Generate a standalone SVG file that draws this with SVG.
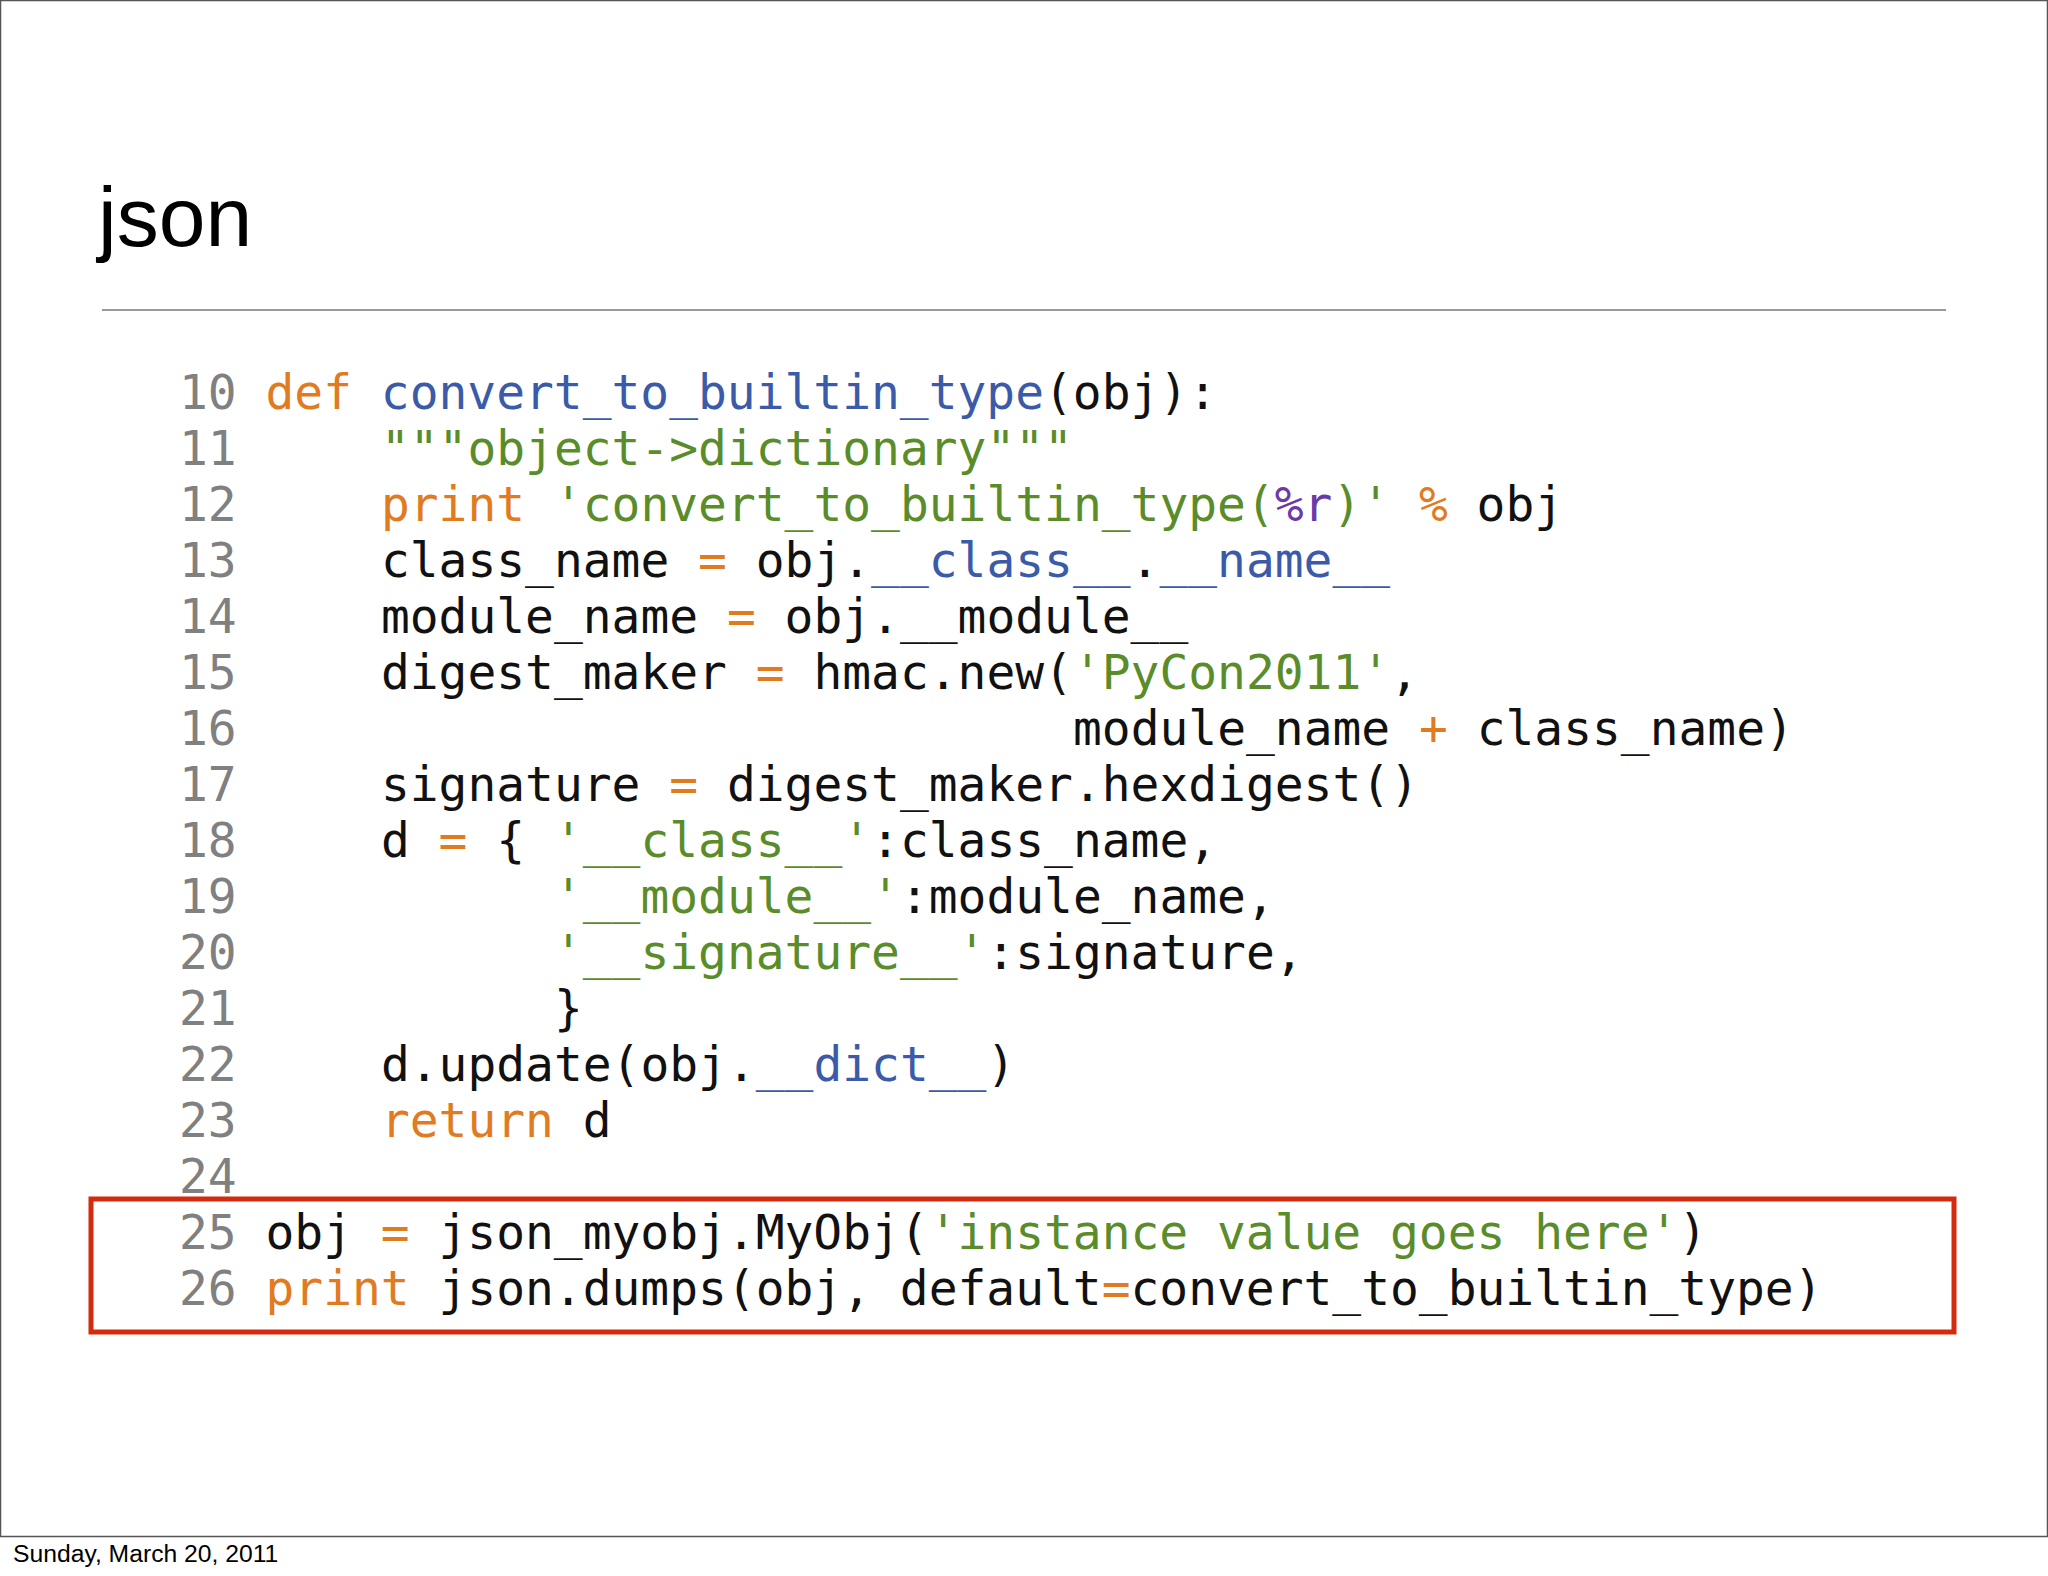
<svg xmlns="http://www.w3.org/2000/svg" width="2048" height="1576" viewBox="0 0 2048 1576">
<style>
.c{font-family:"DejaVu Sans Mono",monospace;font-size:47.9px;fill:#111;white-space:pre}
.n{fill:#808080}.k{fill:#e07b1f}.b{fill:#3b5ba8}.s{fill:#5a8c2a}.p{fill:#6a3ba8}
</style>
<rect x="0" y="0" width="2048" height="1576" fill="#fff"/>
<rect x="0.5" y="0.5" width="2047" height="1536" fill="none" stroke="#555" stroke-width="1.5"/>
<g id="title"><text x="98" y="246" font-family="Liberation Sans, Arial, sans-serif" font-size="84" fill="#000">json</text></g>
<line x1="102" y1="310" x2="1946" y2="310" stroke="#999" stroke-width="2"/>
<g id="linenumbers" class="c n">
<text x="179" y="409">10</text><text x="179" y="465">11</text><text x="179" y="521">12</text><text x="179" y="577">13</text>
<text x="179" y="633">14</text><text x="179" y="689">15</text><text x="179" y="745">16</text><text x="179" y="801">17</text>
<text x="179" y="857">18</text><text x="179" y="913">19</text><text x="179" y="969">20</text><text x="179" y="1025">21</text>
<text x="179" y="1081">22</text><text x="179" y="1137">23</text><text x="179" y="1193">24</text><text x="179" y="1249">25</text>
<text x="179" y="1305">26</text>
</g>
<g id="code" class="c" xml:space="preserve">
<text x="265.5" y="409"><tspan class="k">def</tspan> <tspan class="b">convert_to_builtin_type</tspan>(obj):</text>
<text x="380.9" y="465"><tspan class="s">"""object-&gt;dictionary"""</tspan></text>
<text x="380.9" y="521"><tspan class="k">print</tspan> <tspan class="s">'convert_to_builtin_type(</tspan><tspan class="p">%r</tspan><tspan class="s">)'</tspan> <tspan class="k">%</tspan> obj</text>
<text x="380.9" y="577">class_name <tspan class="k">=</tspan> obj.<tspan class="b">__class__</tspan>.<tspan class="b">__name__</tspan></text>
<text x="380.9" y="633">module_name <tspan class="k">=</tspan> obj.__module__</text>
<text x="380.9" y="689">digest_maker <tspan class="k">=</tspan> hmac.new(<tspan class="s">'PyCon2011'</tspan>,</text>
<text x="1073" y="745">module_name <tspan class="k">+</tspan> class_name)</text>
<text x="380.9" y="801">signature <tspan class="k">=</tspan> digest_maker.hexdigest()</text>
<text x="380.9" y="857">d <tspan class="k">=</tspan> { <tspan class="s">'__class__'</tspan>:class_name,</text>
<text x="553.9" y="913"><tspan class="s">'__module__'</tspan>:module_name,</text>
<text x="553.9" y="969"><tspan class="s">'__signature__'</tspan>:signature,</text>
<text x="553.9" y="1025">}</text>
<text x="380.9" y="1081">d.update(obj.<tspan class="b">__dict__</tspan>)</text>
<text x="380.9" y="1137"><tspan class="k">return</tspan> d</text>
<text x="265.5" y="1249">obj <tspan class="k">=</tspan> json_myobj.MyObj(<tspan class="s">'instance value goes here'</tspan>)</text>
<text x="265.5" y="1305"><tspan class="k">print</tspan> json.dumps(obj, default<tspan class="k">=</tspan>convert_to_builtin_type)</text>
</g>
<g id="highlight"><rect x="91" y="1199" width="1863" height="133" fill="none" stroke="#d42a10" stroke-width="5"/></g>
<g id="footer"><text x="13" y="1562" font-family="Liberation Sans, Arial, sans-serif" font-size="24.7" fill="#000">Sunday, March 20, 2011</text></g>
</svg>
